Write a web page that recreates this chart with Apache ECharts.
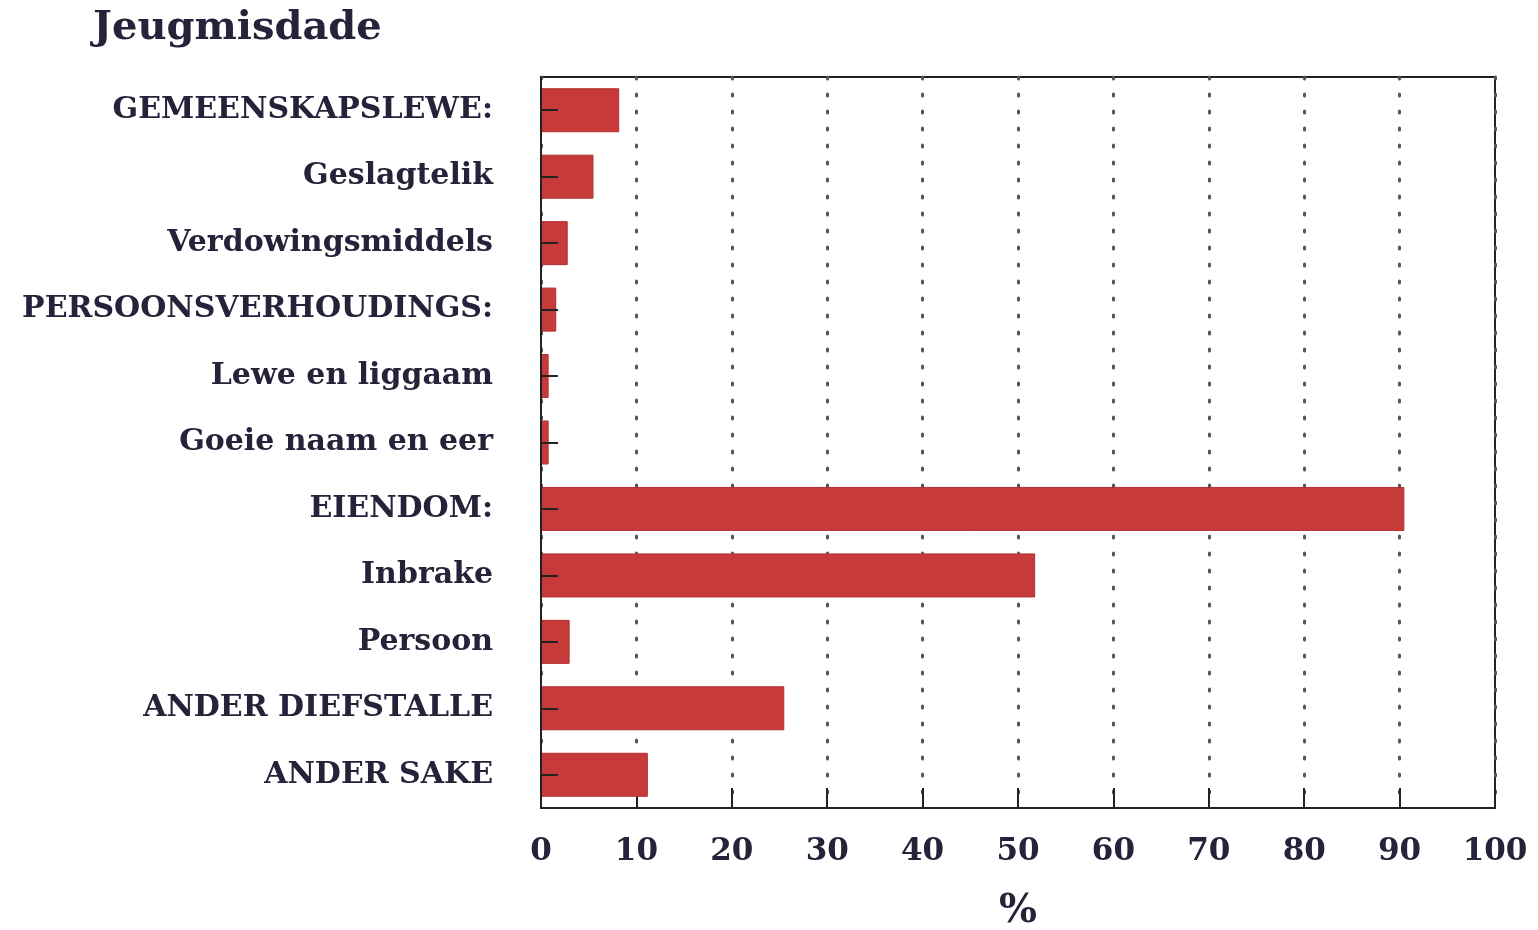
<!DOCTYPE html>
<html>
<head>
<meta charset="utf-8">
<script src="https://cdn.jsdelivr.net/npm/echarts@6/dist/echarts.min.js"></script>
<style>
  html, body { margin: 0; padding: 0; background: #fff; }
  #chart { width: 1538px; height: 930px; }
</style>
</head>
<body>
<div id="chart"></div>
<script>
const categories = [
  'GEMEENSKAPSLEWE:',
  'Geslagtelik',
  'Verdowingsmiddels',
  'PERSOONSVERHOUDINGS:',
  'Lewe en liggaam',
  'Goeie naam en eer',
  'EIENDOM:',
  'Inbrake',
  'Persoon',
  'ANDER DIEFSTALLE',
  'ANDER SAKE'
];
const percentages = [8.2, 5.5, 2.8, 1.6, 0.8, 0.8, 90.5, 51.8, 3.0, 25.5, 11.2];
const xTicks = [0, 10, 20, 30, 40, 50, 60, 70, 80, 90, 100];

const ink = '#27223a';
const font = '"DejaVu Serif", "Liberation Serif", serif';

const chart = echarts.init(document.getElementById('chart'));
chart.setOption({
  animation: false,
  backgroundColor: '#fff',
  title: {
    text: 'Jeugmisdade',
    left: 88,
    top: 4,
    textStyle: { fontFamily: font, fontWeight: 'bold', fontSize: 40, color: ink }
  },
  grid: {
    left: 541, right: 43, top: 77, bottom: 122,
    outerBoundsMode: 'none',
    containLabel: false,
    show: true, borderColor: '#222', borderWidth: 2, backgroundColor: 'transparent'
  },
  xAxis: {
    type: 'value',
    min: 0, max: 100, interval: 10,
    name: '%',
    nameLocation: 'middle',
    nameGap: 84,
    nameTextStyle: { fontFamily: font, fontWeight: 'bold', fontSize: 40, color: ink },
    axisLine: { show: true, lineStyle: { color: '#222', width: 2 } },
    axisTick: { show: true, inside: true, length: 20, lineStyle: { color: '#222', width: 2 } },
    axisLabel: {
      margin: 28,
      fontFamily: font, fontWeight: 'bold', fontSize: 31, color: ink,
      formatter: v => xTicks.includes(v) ? String(v) : ''
    },
    splitLine: {
      show: true,
      lineStyle: { color: '#555', width: 3, type: [2, 15], cap: 'round' }
    }
  },
  yAxis: {
    type: 'category',
    inverse: true,
    data: categories,
    z: 5,
    axisLine: { show: true, lineStyle: { color: '#222', width: 2 } },
    axisTick: { show: true, inside: true, alignWithLabel: true, length: 17, lineStyle: { color: '#222', width: 2 } },
    axisLabel: {
      margin: 48,
      fontFamily: font, fontWeight: 'bold', fontSize: 30, color: ink
    },
    splitLine: { show: false }
  },
  series: [{
    type: 'bar',
    data: percentages,
    barWidth: 44,
    itemStyle: { color: '#c73a3a', borderColor: '#b52e2e', borderWidth: 1 }
  }]
});
</script>
</body>
</html>
